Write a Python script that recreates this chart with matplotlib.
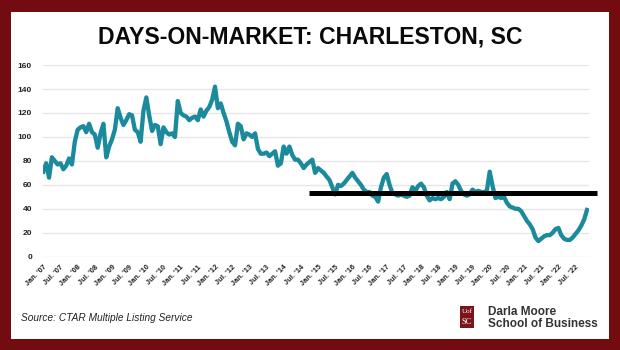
import matplotlib
matplotlib.use("Agg")
import matplotlib.pyplot as plt
from matplotlib.patches import Rectangle

# monthly days-on-market, Jan 2007 .. Nov 2022
dom_2007 = [71, 78, 66, 83, 80, 77, 78, 73, 76, 82, 77, 96]
dom_2008 = [106, 108, 109, 104, 111, 104, 102, 91, 103, 111, 83, 92]
dom_2009 = [98, 106, 124, 116, 110, 114, 119, 118, 106, 104, 96, 122]
dom_2010 = [133, 118, 105, 110, 109, 94, 108, 104, 102, 103, 100, 130]
dom_2011 = [120, 118, 117, 114, 116, 117, 114, 123, 117, 122, 125, 131]
dom_2012 = [142, 124, 128, 120, 113, 104, 96, 93, 111, 109, 98, 103]
dom_2013 = [102, 100, 103, 90, 86, 86, 87, 84, 86, 88, 76, 78]
dom_2014 = [92, 86, 92, 85, 81, 81, 78, 74, 77, 79, 81, 70]
dom_2015 = [74, 72, 70, 67, 64, 58, 52, 60, 59, 61, 64, 67]
dom_2016 = [70, 66, 63, 60, 56, 54, 54, 51, 50, 46, 58, 66]
dom_2017 = [69, 60, 53, 52, 51, 52, 51, 50, 51, 58, 55, 59]
dom_2018 = [61, 58, 51, 47, 49, 48, 49, 48, 50, 54, 48, 61]
dom_2019 = [63, 60, 55, 52, 51, 52, 56, 54, 55, 54, 54, 55]
dom_2020 = [71, 59, 49, 50, 49, 50, 45, 42, 41, 40, 40, 38]
dom_2021 = [34, 30, 27, 23, 16, 13, 15, 17, 18, 18, 20, 23]
dom_2022 = [24, 18, 15, 14, 14, 16, 19, 22, 26, 31, 39]

dom = (dom_2007 + dom_2008 + dom_2009 + dom_2010 + dom_2011 + dom_2012 +
       dom_2013 + dom_2014 + dom_2015 + dom_2016 + dom_2017 + dom_2018 +
       dom_2019 + dom_2020 + dom_2021 + dom_2022)
months = list(range(len(dom)))

tick_labels = []
for yr in range(7, 23):
    tick_labels.append("Jan. '%02d" % yr)
    tick_labels.append("Jul. '%02d" % yr)
tick_pos = [6 * k for k in range(len(tick_labels))]

avg_level = 53        # black reference line
avg_start = 93        # month index where it begins
avg_end = 193.5

red = "#720c10"
teal = "#1a8a9c"

fig = plt.figure(figsize=(6.2, 3.5), dpi=100, facecolor=red)
fig.add_artist(Rectangle((0.0177, 0.031), 0.9645, 0.935, transform=fig.transFigure,
                         facecolor="white", edgecolor="none", zorder=0))

ax = fig.add_axes([0.0694, 0.2666, 0.8806, 0.5474])
ax.set_facecolor("white")
ax.plot(months, dom, color=teal, lw=3.1, solid_joinstyle="round", zorder=3)
ax.plot([avg_start, avg_end], [avg_level, avg_level], color="black", lw=3.6,
        solid_capstyle="butt", clip_on=False, zorder=4)

ax.set_ylim(0, 160)
ax.set_xlim(-0.1, 190.7)
ax.set_yticks(range(0, 161, 20))
ax.grid(axis="y", color="#e6e6e6", lw=1)
ax.set_axisbelow(True)
for s in ax.spines.values():
    s.set_visible(False)
ax.tick_params(length=0)
ax.tick_params(axis="y", pad=8, labelsize=6, labelcolor="#222222")
ax.set_xticks(tick_pos)
ax.set_xticklabels(tick_labels, rotation=45, ha="right", rotation_mode="anchor",
                   fontsize=5.3, color="#222222", fontweight="bold")
ax.tick_params(axis="x", pad=5)
for lab in ax.get_yticklabels():
    lab.set_fontweight("bold")
    lab.set_family("Liberation Sans")
for lab in ax.get_xticklabels():
    lab.set_family("Liberation Sans")

fig.text(0.5, 0.893, "DAYS-ON-MARKET: CHARLESTON, SC", ha="center", va="center",
         fontsize=16.6, fontweight="bold", family="Liberation Sans",
         color="#0a0a0a")

fig.text(0.034, 0.091, "Source: CTAR Multiple Listing Service", ha="left", va="center",
         fontsize=7.3, style="italic", family="Liberation Sans", color="#222222")

# logo
fig.add_artist(Rectangle((460 / 620, 1 - 328 / 350), 14 / 620, 22 / 350,
                         transform=fig.transFigure, facecolor="#7a1418", edgecolor="none"))
fig.text(467 / 620, 1 - 311.5 / 350, "Uof", ha="center", va="center",
         fontsize=5, color="white", family="Liberation Serif")
fig.text(467 / 620, 1 - 322 / 350, "SC", ha="center", va="center", fontsize=6,
         color="white", family="Liberation Serif")
fig.text(488 / 620, 1 - 312 / 350, "Darla Moore", ha="left", va="center",
         fontsize=8.5, fontweight="bold", family="Liberation Sans", color="#333333")
fig.text(488 / 620, 1 - 324 / 350, "School of Business", ha="left", va="center",
         fontsize=8.5, fontweight="bold", family="Liberation Sans", color="#333333")

fig.savefig("out.png", dpi=100, facecolor=red)
